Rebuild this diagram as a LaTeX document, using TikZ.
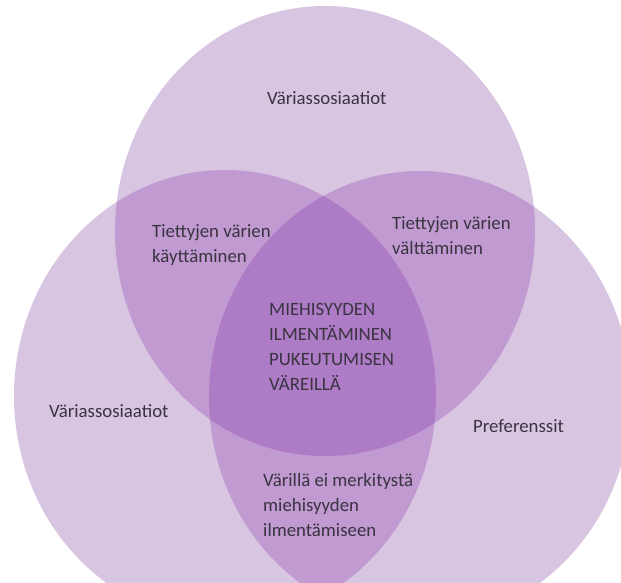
\documentclass[tikz,border=0pt]{standalone}
\usepackage{fontspec}
\setmainfont{Carlito}
\definecolor{one}{HTML}{D7C5E2}
\definecolor{two}{HTML}{C09AD1}
\definecolor{three}{HTML}{AE7BC6}
\definecolor{txt}{HTML}{3A3340}
\begin{document}
\begin{tikzpicture}[x=1pt,y=-1pt,
  lbl/.style={text=txt,font=\fontsize{18.8}{25}\selectfont,inner sep=0pt,align=left,anchor=west}]
\useasboundingbox[fill=white] (0,0) rectangle (621,582);
\def\topE{(325,231) ellipse [x radius=210,y radius=225]}
\def\leftE{(225,396) ellipse [x radius=211,y radius=226]}
\def\rightE{(420,397) ellipse [x radius=211,y radius=226]}
\fill[one] \topE;
\fill[one] \leftE;
\fill[one] \rightE;
\begin{scope}\clip \topE; \fill[two] \leftE; \end{scope}
\begin{scope}\clip \topE; \fill[two] \rightE; \end{scope}
\begin{scope}\clip \leftE; \fill[two] \rightE; \end{scope}
\begin{scope}\clip \topE; \clip \leftE; \fill[three] \rightE; \end{scope}
\node[lbl] (top) at (267,98) {Väriassosiaatiot};
\node[lbl] (tl) at (152,245) {Tiettyjen värien\\käyttäminen};
\node[lbl] (tr) at (392,236) {Tiettyjen värien\\välttäminen};
\node[lbl] (mid) at (269,347) {MIEHISYYDEN\\ILMENTÄMINEN\\PUKEUTUMISEN\\VÄREILLÄ};
\node[lbl] (lft) at (49,411) {Väriassosiaatiot};
\node[lbl] (rgt) at (473,426) {Preferenssit};
\node[lbl] (bot) at (263,505) {Värillä ei merkitystä\\miehisyyden\\ilmentämiseen};
\end{tikzpicture}
\end{document}
